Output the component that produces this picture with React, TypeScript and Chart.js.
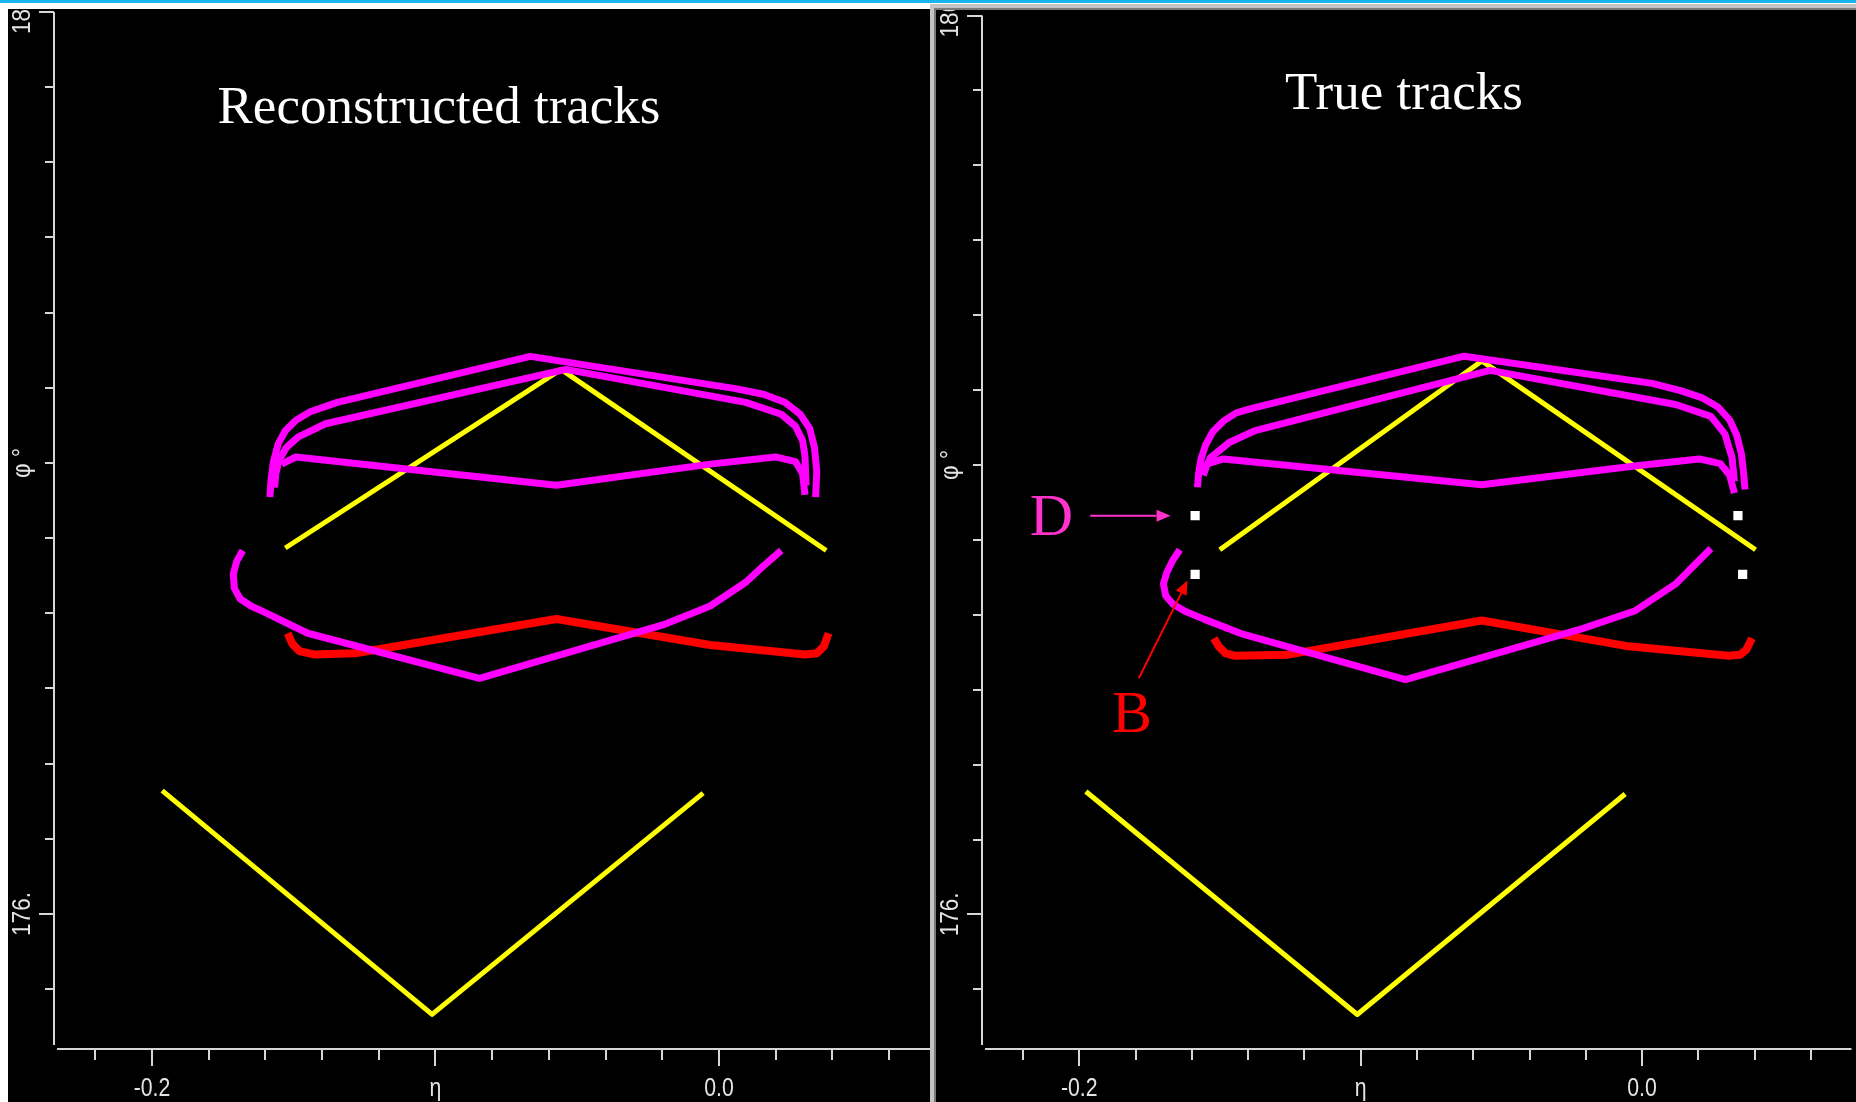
import React, { useEffect, useRef } from 'react';
import { Chart, registerables } from 'chart.js';
Chart.register(...registerables);

// ---- axes ----
const X_MIN = -0.23457;
const X_MAX = 0.07443;
const Y_MIN = 175.4013;
const Y_MAX = 180;
const X_TICKS = [-0.22, -0.2, -0.18, -0.16, -0.14, -0.12, -0.1, -0.08, -0.06, -0.04, -0.02, 0.0, 0.02, 0.04, 0.06];
const X_MAJOR = [-0.2, -0.1, 0.0];
const X_LABELS = ['-0.2', 'η', '0.0'];
const Y_TICKS = [175.6667, 176, 176.3333, 176.6667, 177, 177.3333, 177.6667, 178, 178.3333, 178.6667, 179, 179.3333, 179.6667, 180];
const Y_MAJOR = [176, 180];
const Y_LABEL_VALUES = [180, 178, 176];
const Y_LABELS = ['180.', 'φ °', '176.'];

// ---- reconstructed tracks (left) ----
const REC_MAG_OUTER: [number, number][] = [
  [-0.15841, 177.849], [-0.15799, 177.927], [-0.15716, 178.006], [-0.15549, 178.085], [-0.15298, 178.143],
  [-0.14922, 178.19], [-0.14421, 178.227], [-0.13461, 178.269], [-0.06655, 178.473], [0.00526, 178.331],
  [0.0157, 178.305], [0.02322, 178.269], [0.02865, 178.216], [0.03199, 178.153], [0.03366, 178.069],
  [0.03449, 177.964], [0.03408, 177.849],
];
const REC_MAG_INNER: [number, number][] = [
  [-0.15674, 177.891], [-0.15632, 177.954], [-0.15507, 178.016], [-0.15257, 178.069], [-0.14839, 178.116],
  [-0.13879, 178.174], [-0.05403, 178.415], [0.00944, 178.269], [0.02197, 178.216], [0.02698, 178.163],
  [0.02948, 178.1], [0.03032, 178.032], [0.03073, 177.901],
];
const REC_MAG_MID: [number, number][] = [
  [-0.15424, 177.995], [-0.14922, 178.027], [-0.05737, 177.901], [-0.00309, 177.995], [0.01988, 178.027],
  [0.02698, 178.006], [0.02948, 177.954], [0.03032, 177.859],
];
const REC_MAG_LOW: [number, number][] = [
  [-0.16801, 177.612], [-0.1701, 177.565], [-0.17135, 177.507], [-0.17094, 177.444], [-0.16885, 177.397],
  [-0.16509, 177.366], [-0.15966, 177.334], [-0.14505, 177.245], [-0.08451, 177.045], [-0.01979, 177.282],
  [-0.00309, 177.366], [0.00944, 177.471], [0.0157, 177.544], [0.02197, 177.612],
];
const REC_RED: [number, number][] = [
  [-0.15215, 177.245], [-0.15048, 177.198], [-0.14796, 177.166], [-0.14296, 177.151], [-0.12835, 177.156],
  [-0.05737, 177.308], [-0.00309, 177.193], [0.03032, 177.151], [0.03449, 177.156], [0.037, 177.187],
  [0.03867, 177.245],
];
const REC_YEL_TOP: [number, number][] = [[-0.15298, 177.623], [-0.0557, 178.415], [0.03783, 177.612]];
const REC_YEL_LOW: [number, number][] = [[-0.19641, 176.547], [-0.10121, 175.555], [-0.00559, 176.536]];

// ---- true tracks (right) ----
const TRUE_MAG_OUTER: [number, number][] = [
  [-0.15799, 177.901], [-0.15758, 177.964], [-0.15674, 178.027], [-0.15507, 178.09], [-0.15257, 178.148],
  [-0.14881, 178.195], [-0.14421, 178.232], [-0.13837, 178.253], [-0.06321, 178.484], [0.0036, 178.363],
  [0.01362, 178.331], [0.02113, 178.3], [0.02698, 178.258], [0.03115, 178.2], [0.03366, 178.132],
  [0.03533, 178.048], [0.03616, 177.954], [0.03658, 177.891],
];
const TRUE_MAG_INNER: [number, number][] = [
  [-0.15591, 177.954], [-0.15466, 178.0], [-0.1534, 178.032], [-0.14672, 178.1], [-0.13753, 178.153],
  [-0.05403, 178.421], [0.01195, 178.269], [0.02447, 178.216], [0.02948, 178.137], [0.03199, 178.032],
  [0.03282, 177.927],
];
const TRUE_MAG_MID: [number, number][] = [
  [-0.15424, 178.006], [-0.14881, 178.027], [-0.05695, 177.912], [-0.00267, 177.995], [0.0203, 178.027],
  [0.02781, 178.006], [0.03115, 177.954], [0.03282, 177.875],
];
const TRUE_MAG_LOW: [number, number][] = [
  [-0.16426, 177.623], [-0.16676, 177.576], [-0.16885, 177.523], [-0.1701, 177.471], [-0.16927, 177.418],
  [-0.16676, 177.381], [-0.16259, 177.35], [-0.15549, 177.313], [-0.14254, 177.25], [-0.08409, 177.045],
  [-0.02146, 177.271], [-0.00267, 177.35], [0.01195, 177.471], [0.0203, 177.576], [0.02447, 177.628],
];
const TRUE_RED: [number, number][] = [
  [-0.15215, 177.229], [-0.15048, 177.193], [-0.14796, 177.162], [-0.14463, 177.151], [-0.12584, 177.156],
  [-0.05695, 177.308], [-0.00476, 177.193], [0.03073, 177.151], [0.03491, 177.156], [0.037, 177.177],
  [0.03909, 177.229],
];
const TRUE_YEL_TOP: [number, number][] = [[-0.15006, 177.623], [-0.05695, 178.463], [0.04034, 177.623]];
const TRUE_YEL_LOW: [number, number][] = [[-0.19766, 176.547], [-0.10121, 175.555], [-0.00601, 176.536]];
const TRUE_HITS: [number, number][] = [[-0.15883, 177.775], [-0.15883, 177.513], [0.03408, 177.775], [0.03575, 177.513]];

// ---- annotations (right) ----
const NOTE_TEXTS = ['D', 'B'];
const NOTE_COLORS = ['#ff33cc', '#ff0000'];
const NOTE_POS: [number, number][] = [[-0.21764, 177.6896], [-0.18836, 176.8115]];
const ARROWS: [number, number, number, number][] = [
  [-0.19612, 177.7738, -0.16755, 177.7738],
  [-0.17884, 177.051, -0.16155, 177.4856],
];

const MAGENTA = '#ff00ff';
const RED = '#ff0000';
const YELLOW = '#ffff00';
const AXIS = '#d6d6d6';
const LABEL = '#e4e4e4';

const toPts = (a: [number, number][]) => a.map(([x, y]) => ({ x, y }));

const line = (data: [number, number][], color: string, width: number) => ({
  data: toPts(data),
  showLine: true,
  borderColor: color,
  backgroundColor: color,
  borderWidth: width,
  pointRadius: 0,
  tension: 0,
  fill: false,
  borderJoinStyle: 'round',
  borderCapStyle: 'butt',
});

const decoPlugin = {
  id: 'deco',
  afterDatasetsDraw(chart: any, _args: any, opts: any) {
    const { ctx, chartArea: a } = chart;
    const xs = chart.scales.x;
    const ys = chart.scales.y;
    ctx.save();
    ctx.strokeStyle = AXIS;
    ctx.lineWidth = 2;
    ctx.lineCap = 'butt';
    ctx.beginPath();
    ctx.moveTo(a.left, a.top);
    ctx.lineTo(a.left, a.bottom - 4);
    ctx.moveTo(a.left + 3, a.bottom);
    ctx.lineTo(a.right, a.bottom);
    for (const v of Y_TICKS) {
      const py = Math.round(ys.getPixelForValue(v));
      const len = Y_MAJOR.includes(v) ? 15 : 9;
      ctx.moveTo(a.left - len, py);
      ctx.lineTo(a.left, py);
    }
    for (const v of X_TICKS) {
      const px = Math.round(xs.getPixelForValue(v));
      const len = X_MAJOR.includes(v) ? 17 : 11;
      ctx.moveTo(px, a.bottom);
      ctx.lineTo(px, a.bottom + len);
    }
    ctx.stroke();

    ctx.fillStyle = LABEL;
    ctx.font = '25px "Liberation Sans", "DejaVu Sans", sans-serif';
    ctx.textAlign = 'center';
    ctx.textBaseline = 'middle';
    X_MAJOR.forEach((v, i) => {
      const px = xs.getPixelForValue(v);
      ctx.save();
      ctx.translate(px, a.bottom + 40);
      ctx.scale(0.85, 1);
      ctx.fillText(X_LABELS[i], 0, 0);
      ctx.restore();
    });
    Y_LABEL_VALUES.forEach((v, i) => {
      const py = ys.getPixelForValue(v);
      ctx.save();
      ctx.translate(a.left - 31, py);
      ctx.rotate(-Math.PI / 2);
      ctx.scale(0.9, 1);
      ctx.fillText(Y_LABELS[i], 0, 0);
      ctx.restore();
    });

    if (opts.title) {
      ctx.fillStyle = '#ffffff';
      ctx.font = '53px "Liberation Serif", "Times New Roman", serif';
      ctx.textAlign = 'center';
      ctx.textBaseline = 'alphabetic';
      ctx.fillText(opts.title, opts.titleX, opts.titleY);
    }

    if (opts.notes) {
      ctx.font = '60px "Liberation Serif", "Times New Roman", serif';
      ctx.textAlign = 'left';
      ctx.textBaseline = 'alphabetic';
      NOTE_TEXTS.forEach((t, i) => {
        ctx.fillStyle = NOTE_COLORS[i];
        ctx.fillText(t, xs.getPixelForValue(NOTE_POS[i][0]), ys.getPixelForValue(NOTE_POS[i][1]));
      });
      ARROWS.forEach((ar, i) => {
        const x1 = xs.getPixelForValue(ar[0]);
        const y1 = ys.getPixelForValue(ar[1]);
        const x2 = xs.getPixelForValue(ar[2]);
        const y2 = ys.getPixelForValue(ar[3]);
        const ang = Math.atan2(y2 - y1, x2 - x1);
        const hl = 14;
        const hw = 6;
        ctx.strokeStyle = NOTE_COLORS[i];
        ctx.fillStyle = NOTE_COLORS[i];
        ctx.lineWidth = 2;
        ctx.beginPath();
        ctx.moveTo(x1, y1);
        ctx.lineTo(x2 - hl * Math.cos(ang), y2 - hl * Math.sin(ang));
        ctx.stroke();
        ctx.beginPath();
        ctx.moveTo(x2, y2);
        ctx.lineTo(x2 - hl * Math.cos(ang) + hw * Math.sin(ang), y2 - hl * Math.sin(ang) - hw * Math.cos(ang));
        ctx.lineTo(x2 - hl * Math.cos(ang) - hw * Math.sin(ang), y2 - hl * Math.sin(ang) + hw * Math.cos(ang));
        ctx.closePath();
        ctx.fill();
      });
    }
    ctx.restore();
  },
};

type PanelProps = {
  datasets: any[];
  title: string;
  titleX: number;
  titleY: number;
  notes?: boolean;
};

function Panel({ datasets, title, titleX, titleY, notes }: PanelProps) {
  const ref = useRef<HTMLCanvasElement | null>(null);
  useEffect(() => {
    if (!ref.current) return;
    const chart = new Chart(ref.current, {
      type: 'scatter',
      data: { datasets },
      options: {
        animation: false,
        responsive: false,
        devicePixelRatio: 1,
        layout: { padding: { left: 46, top: 3, right: 0, bottom: 53 } },
        plugins: {
          legend: { display: false },
          tooltip: { enabled: false },
          title: { display: false },
          deco: { title, titleX, titleY, notes: !!notes },
        } as any,
        scales: {
          x: { type: 'linear', min: X_MIN, max: X_MAX, display: false },
          y: { type: 'linear', min: Y_MIN, max: Y_MAX, display: false },
        },
      },
      plugins: [decoPlugin as any],
    } as any);
    return () => chart.destroy();
  }, []);
  return <canvas ref={ref} width={922} height={1093} style={{ display: 'block', width: 922, height: 1093 }} />;
}

export default function App() {
  const recSets = [
    line(REC_MAG_OUTER, MAGENTA, 7),
    line(REC_MAG_INNER, MAGENTA, 7),
    line(REC_MAG_MID, MAGENTA, 7),
    line(REC_MAG_LOW, MAGENTA, 7),
    line(REC_RED, RED, 8),
    line(REC_YEL_TOP, YELLOW, 5),
    line(REC_YEL_LOW, YELLOW, 5),
  ];
  const trueSets = [
    {
      data: toPts(TRUE_HITS),
      showLine: false,
      pointStyle: 'rect',
      pointRadius: 6.5,
      pointBorderWidth: 0,
      backgroundColor: '#ffffff',
      borderColor: '#ffffff',
    },
    line(TRUE_MAG_OUTER, MAGENTA, 7),
    line(TRUE_MAG_INNER, MAGENTA, 7),
    line(TRUE_MAG_MID, MAGENTA, 7),
    line(TRUE_MAG_LOW, MAGENTA, 7),
    line(TRUE_RED, RED, 8),
    line(TRUE_YEL_TOP, YELLOW, 5),
    line(TRUE_YEL_LOW, YELLOW, 5),
  ];
  return (
    <div style={{ position: 'fixed', left: 0, top: 0, width: 1856, height: 1102, background: '#ffffff', overflow: 'hidden' }}>
      <div style={{ position: 'absolute', left: 0, top: 0, width: 1856, height: 3, background: '#1ab4ee' }} />
      <div style={{ position: 'absolute', left: 8, top: 9, width: 922, height: 1093, background: '#000', overflow: 'hidden' }}>
        <Panel datasets={recSets} title="Reconstructed tracks" titleX={431} titleY={114} />
      </div>
      <div style={{ position: 'absolute', left: 930, top: 4, width: 926, height: 1098, background: '#c4c4c4' }} />
      <div style={{ position: 'absolute', left: 934, top: 8, width: 922, height: 1094, background: '#7a7a7a' }} />
      <div style={{ position: 'absolute', left: 936, top: 10, width: 920, height: 1092, background: '#000', overflow: 'hidden' }}>
        <div style={{ position: 'absolute', left: 0, top: -1 }}>
          <Panel datasets={trueSets} title="True tracks" titleX={468} titleY={100} notes />
        </div>
      </div>
    </div>
  );
}
